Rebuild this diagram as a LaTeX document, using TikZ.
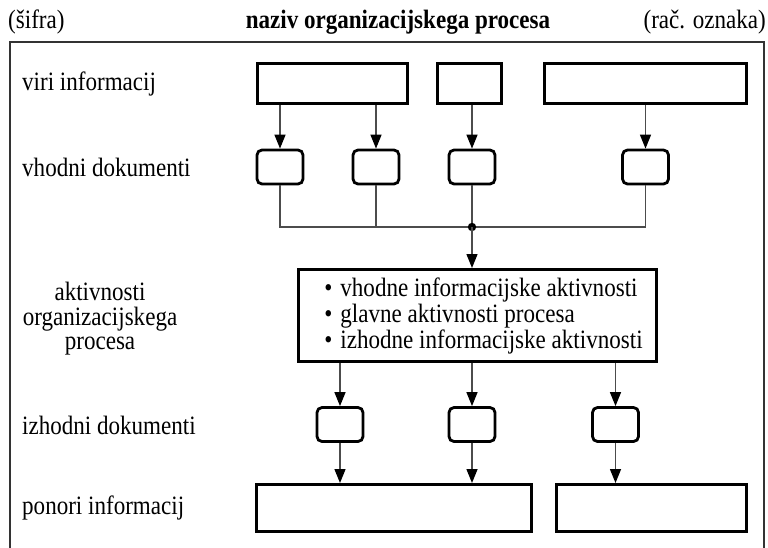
\documentclass[tikz,border=0pt]{standalone}
\usepackage{fontspec}
\setmainfont{Liberation Serif}[FakeStretch=0.87]
\usetikzlibrary{arrows.meta}
\newcommand\actitem{\hspace*{12pt}\textbullet\hspace{8pt}}
\begin{document}
\begin{tikzpicture}[x=1pt,y=-1pt,
  font=\fontsize{26.5}{26}\selectfont,
  srcbox/.style={draw=black,line width=3pt,minimum height=40pt,inner sep=0pt},
  docbox/.style={draw=black,line width=2.8pt,rounded corners=5pt,minimum width=46pt,minimum height=34pt,inner sep=0pt},
  actbox/.style={draw=black,line width=3pt,minimum width=358pt,minimum height=92pt,inner sep=0pt,align=left},
  conn/.style={draw=black!70,line width=1.4pt},
  arr/.style={conn,-{Triangle[length=14pt,width=11pt,color=black]}},
  lbl/.style={anchor=west,inner sep=0pt},
  frameline/.style={draw=black!80,line width=1.4pt}]
\useasboundingbox (0,0) rectangle (768,547);

% header
\node[anchor=west,inner sep=0pt] (code) at (8,22) {(šifra)};
\node[inner sep=0pt] (title) at (398,22) {\bfseries naziv organizacijskega procesa};
\node[anchor=east,inner sep=0pt] (mark) at (766,22) {(rač. oznaka)};

% outer frame (open at the bottom)
\draw[frameline] (10,552) -- (10,42) -- (764,42) -- (764,552);

% row labels
\node[lbl] (lsrc) at (22,84) {viri informacij};
\node[lbl] (lin) at (22,167) {vhodni dokumenti};
\node[align=center,inner sep=0pt,font=\fontsize{26.5}{24.5}\selectfont] (lact) at (100,319) {aktivnosti\\organizacijskega\\procesa};
\node[lbl] (lout) at (22,425) {izhodni dokumenti};
\node[lbl] (lsnk) at (22,508) {ponori informacij};

% sources
\node[srcbox,minimum width=150pt] (src1) at (332.5,83.5) {};
\node[srcbox,minimum width=64pt] (src2) at (469.5,83.5) {};
\node[srcbox,minimum width=202pt] (src3) at (645.5,83.5) {};

% input documents
\node[docbox] (in1) at (280,167) {};
\node[docbox] (in2) at (376,167) {};
\node[docbox] (in3) at (472,167) {};
\node[docbox] (in4) at (645.5,167) {};

% process activities
\node[actbox] (act) at (477.5,315.5) {\actitem vhodne informacijske aktivnosti\\
\actitem glavne aktivnosti procesa\\
\actitem izhodne informacijske aktivnosti};

% output documents
\node[docbox] (out1) at (340,424.5) {};
\node[docbox] (out2) at (472,424.5) {};
\node[docbox] (out3) at (615.5,424.5) {};

% sinks
\node[srcbox,minimum width=275pt,minimum height=47pt] (snk1) at (394,508) {};
\node[srcbox,minimum width=190pt,minimum height=47pt] (snk2) at (651.5,508) {};

% sources -> input documents
\draw[arr] (in1.north |- src1.south) -- (in1.north);
\draw[arr] (in2.north |- src1.south) -- (in2.north);
\draw[arr] (in3.north |- src2.south) -- (in3.north);
\draw[arr] (in4.north |- src3.south) -- (in4.north);

% input documents joined on a bus
\coordinate (bus) at (472,227);
\draw[conn] (in1.south) |- (bus);
\draw[conn] (in2.south) -- (in2.south |- bus);
\draw[conn] (in3.south) -- (bus);
\draw[conn] (in4.south) |- (bus);
\fill[black] (bus) circle (4.2pt);
\draw[arr] (bus) -- (bus |- act.north);

% activities -> output documents
\draw[arr] (out1.north |- act.south) -- (out1.north);
\draw[arr] (out2.north |- act.south) -- (out2.north);
\draw[arr] (out3.north |- act.south) -- (out3.north);

% output documents -> sinks
\draw[arr] (out1.south) -- (out1.south |- snk1.north);
\draw[arr] (out2.south) -- (out2.south |- snk1.north);
\draw[arr] (out3.south) -- (out3.south |- snk2.north);
\end{tikzpicture}
\end{document}
